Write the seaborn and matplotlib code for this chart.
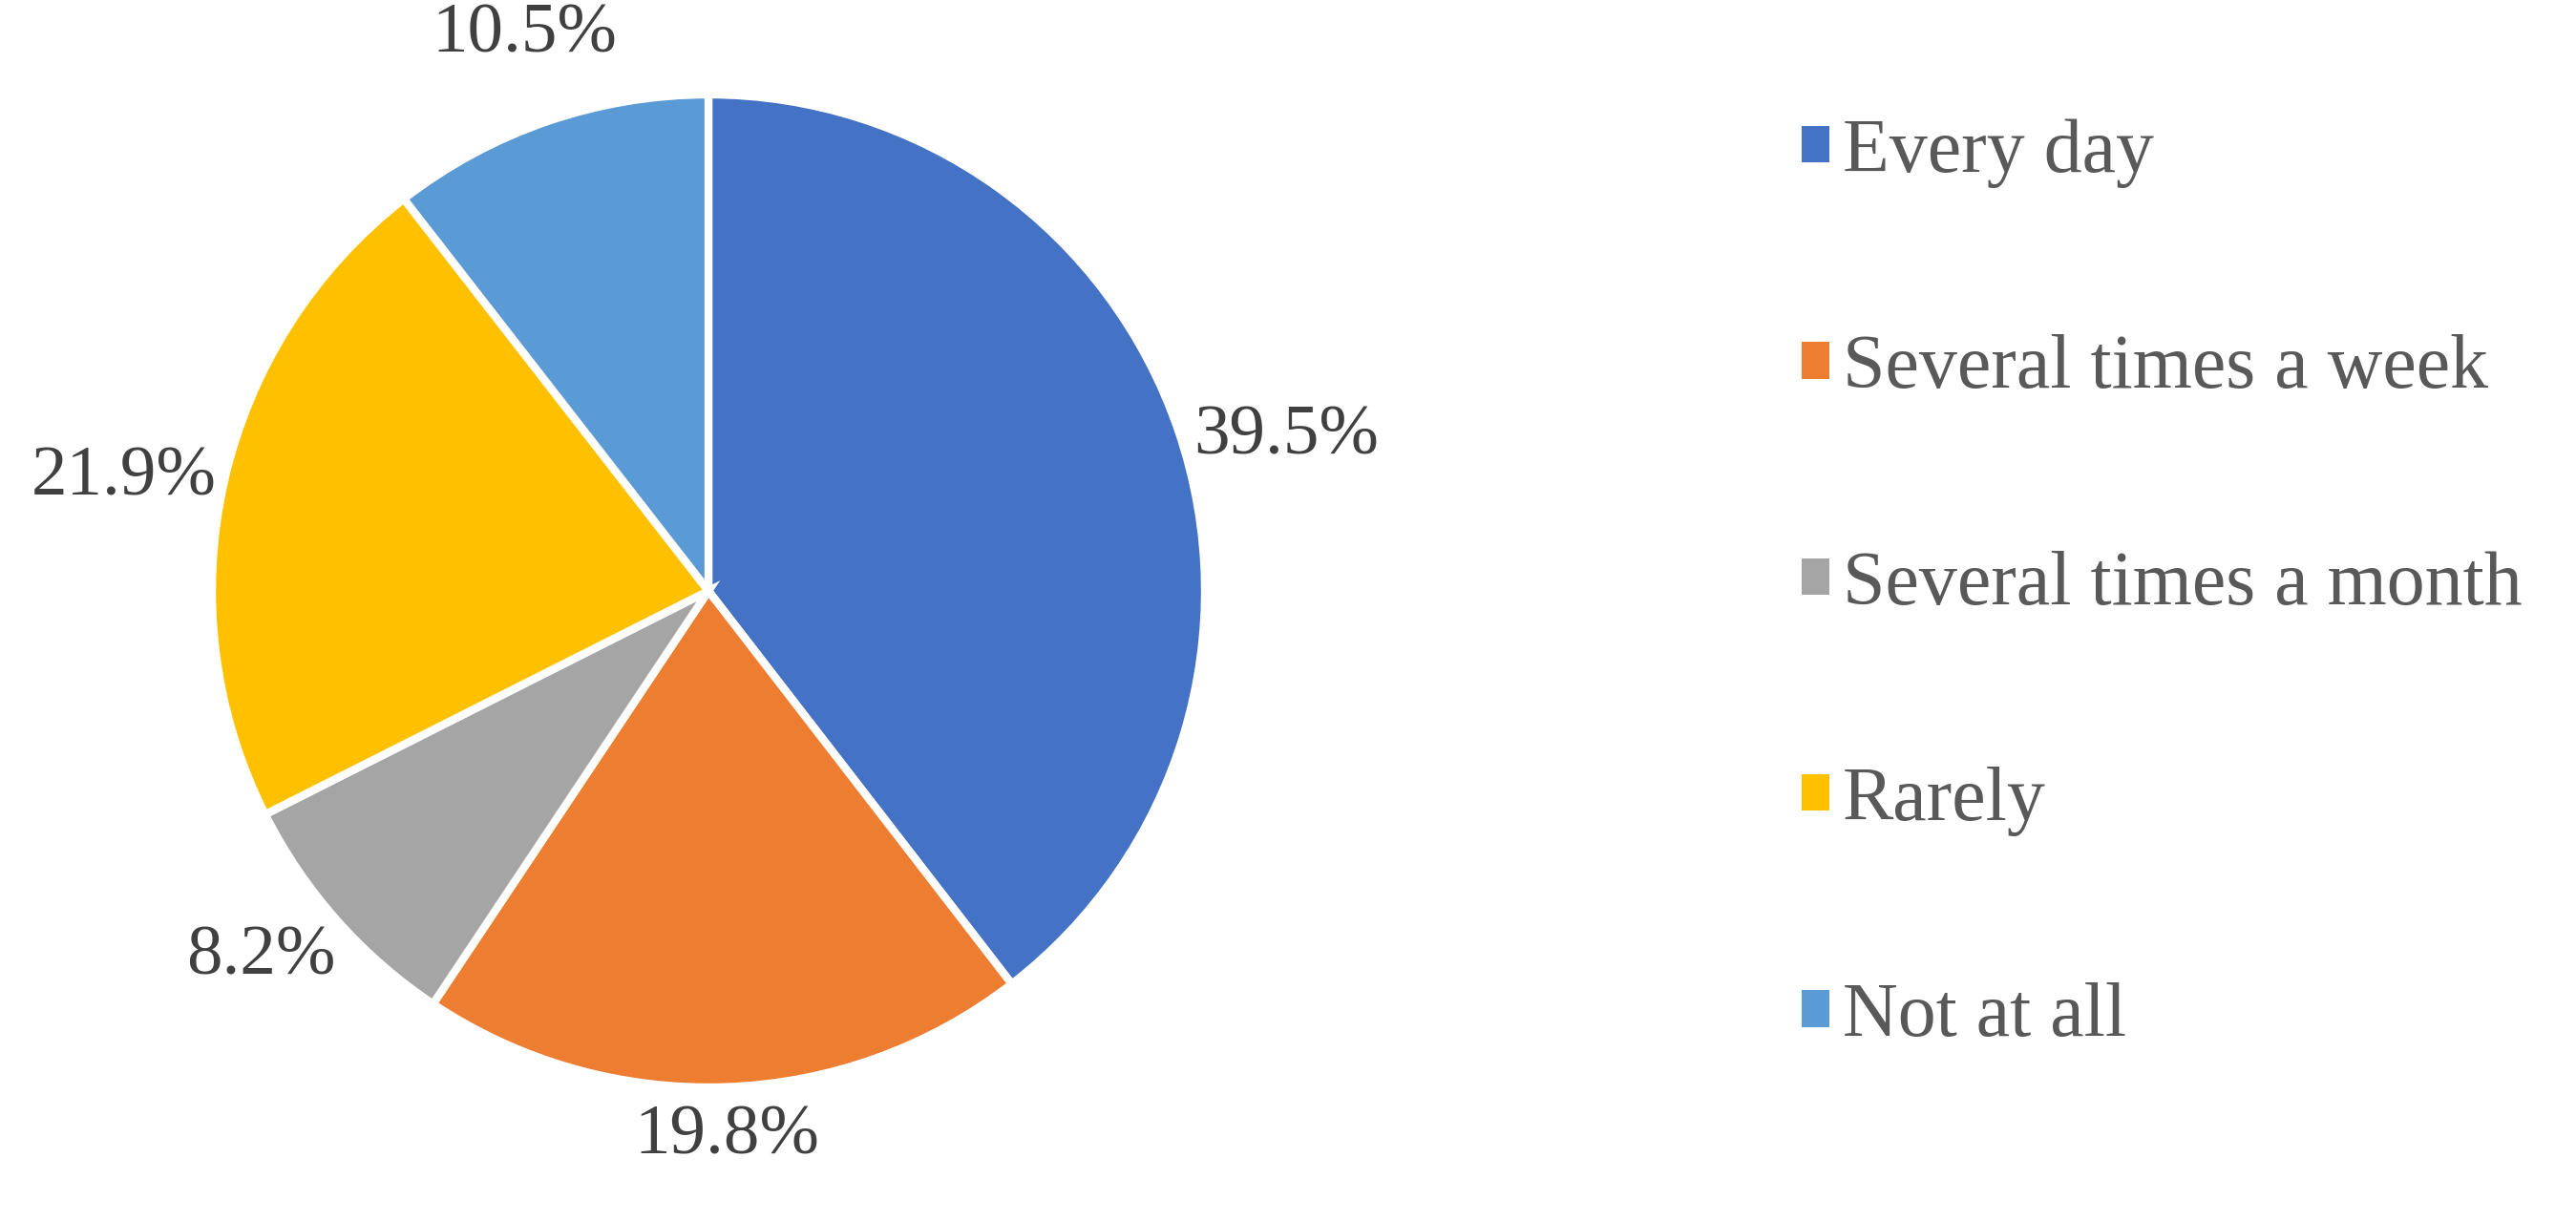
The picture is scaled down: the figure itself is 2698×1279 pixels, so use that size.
import numpy as np
import matplotlib
matplotlib.use("Agg")
import matplotlib.pyplot as plt
import seaborn as sns

# Chart data
categories = ["Every day", "Several times a week", "Several times a month", "Rarely", "Not at all"]
shares = [39.5, 19.8, 8.2, 21.9, 10.5]
slice_colors = ["#4472C4", "#ED7D31", "#A5A5A5", "#FFC000", "#5B9BD5"]

# Style
sns.set_theme(style="white")
plt.rcParams['font.family'] = ['Liberation Serif', 'DejaVu Serif']
palette = sns.color_palette(slice_colors)

fig = plt.figure(figsize=(26.98, 12.79), dpi=100)
# pie axes: centre ~ (742, 619) px, radius ~ 520 px
ax = fig.add_axes([92 / 2698, 10 / 1279, 1300 / 2698, 1300 / 1279])

wedges, _ = ax.pie(shares, colors=palette, startangle=90, counterclock=False,
                   radius=1.0, wedgeprops=dict(edgecolor="white", linewidth=6))
ax.set_xlim(-1.25, 1.25)
ax.set_ylim(-1.25, 1.25)
ax.set_aspect("equal")
ax.axis("off")

# percentage labels just outside each slice (excel "best fit" style nudges)
label_dist = [1.205, 1.10, 1.165, 1.20, 1.18]
label_nudge = [-3.9, 0.0, -2.2, 1.8, -0.6]  # degrees
for w, val, d, nd in zip(wedges, shares, label_dist, label_nudge):
    ang = np.deg2rad((w.theta1 + w.theta2) / 2 + nd)
    ax.text(d * np.cos(ang), d * np.sin(ang), f"{val:.1f}%",
            ha="center", va="center", fontsize=54, color="#404040")

leg = fig.legend(wedges, categories, loc="upper left",
                 bbox_to_anchor=(1815 / 2698, 1 - 52 / 1279),
                 frameon=False, fontsize=57.5, labelcolor="#595959",
                 handlelength=0.36, handleheight=0.36, handletextpad=0.18,
                 labelspacing=1.92)
for h in leg.legend_handles:
    h.set_linewidth(0)

fig.savefig("out.png", dpi=100, facecolor="white")
